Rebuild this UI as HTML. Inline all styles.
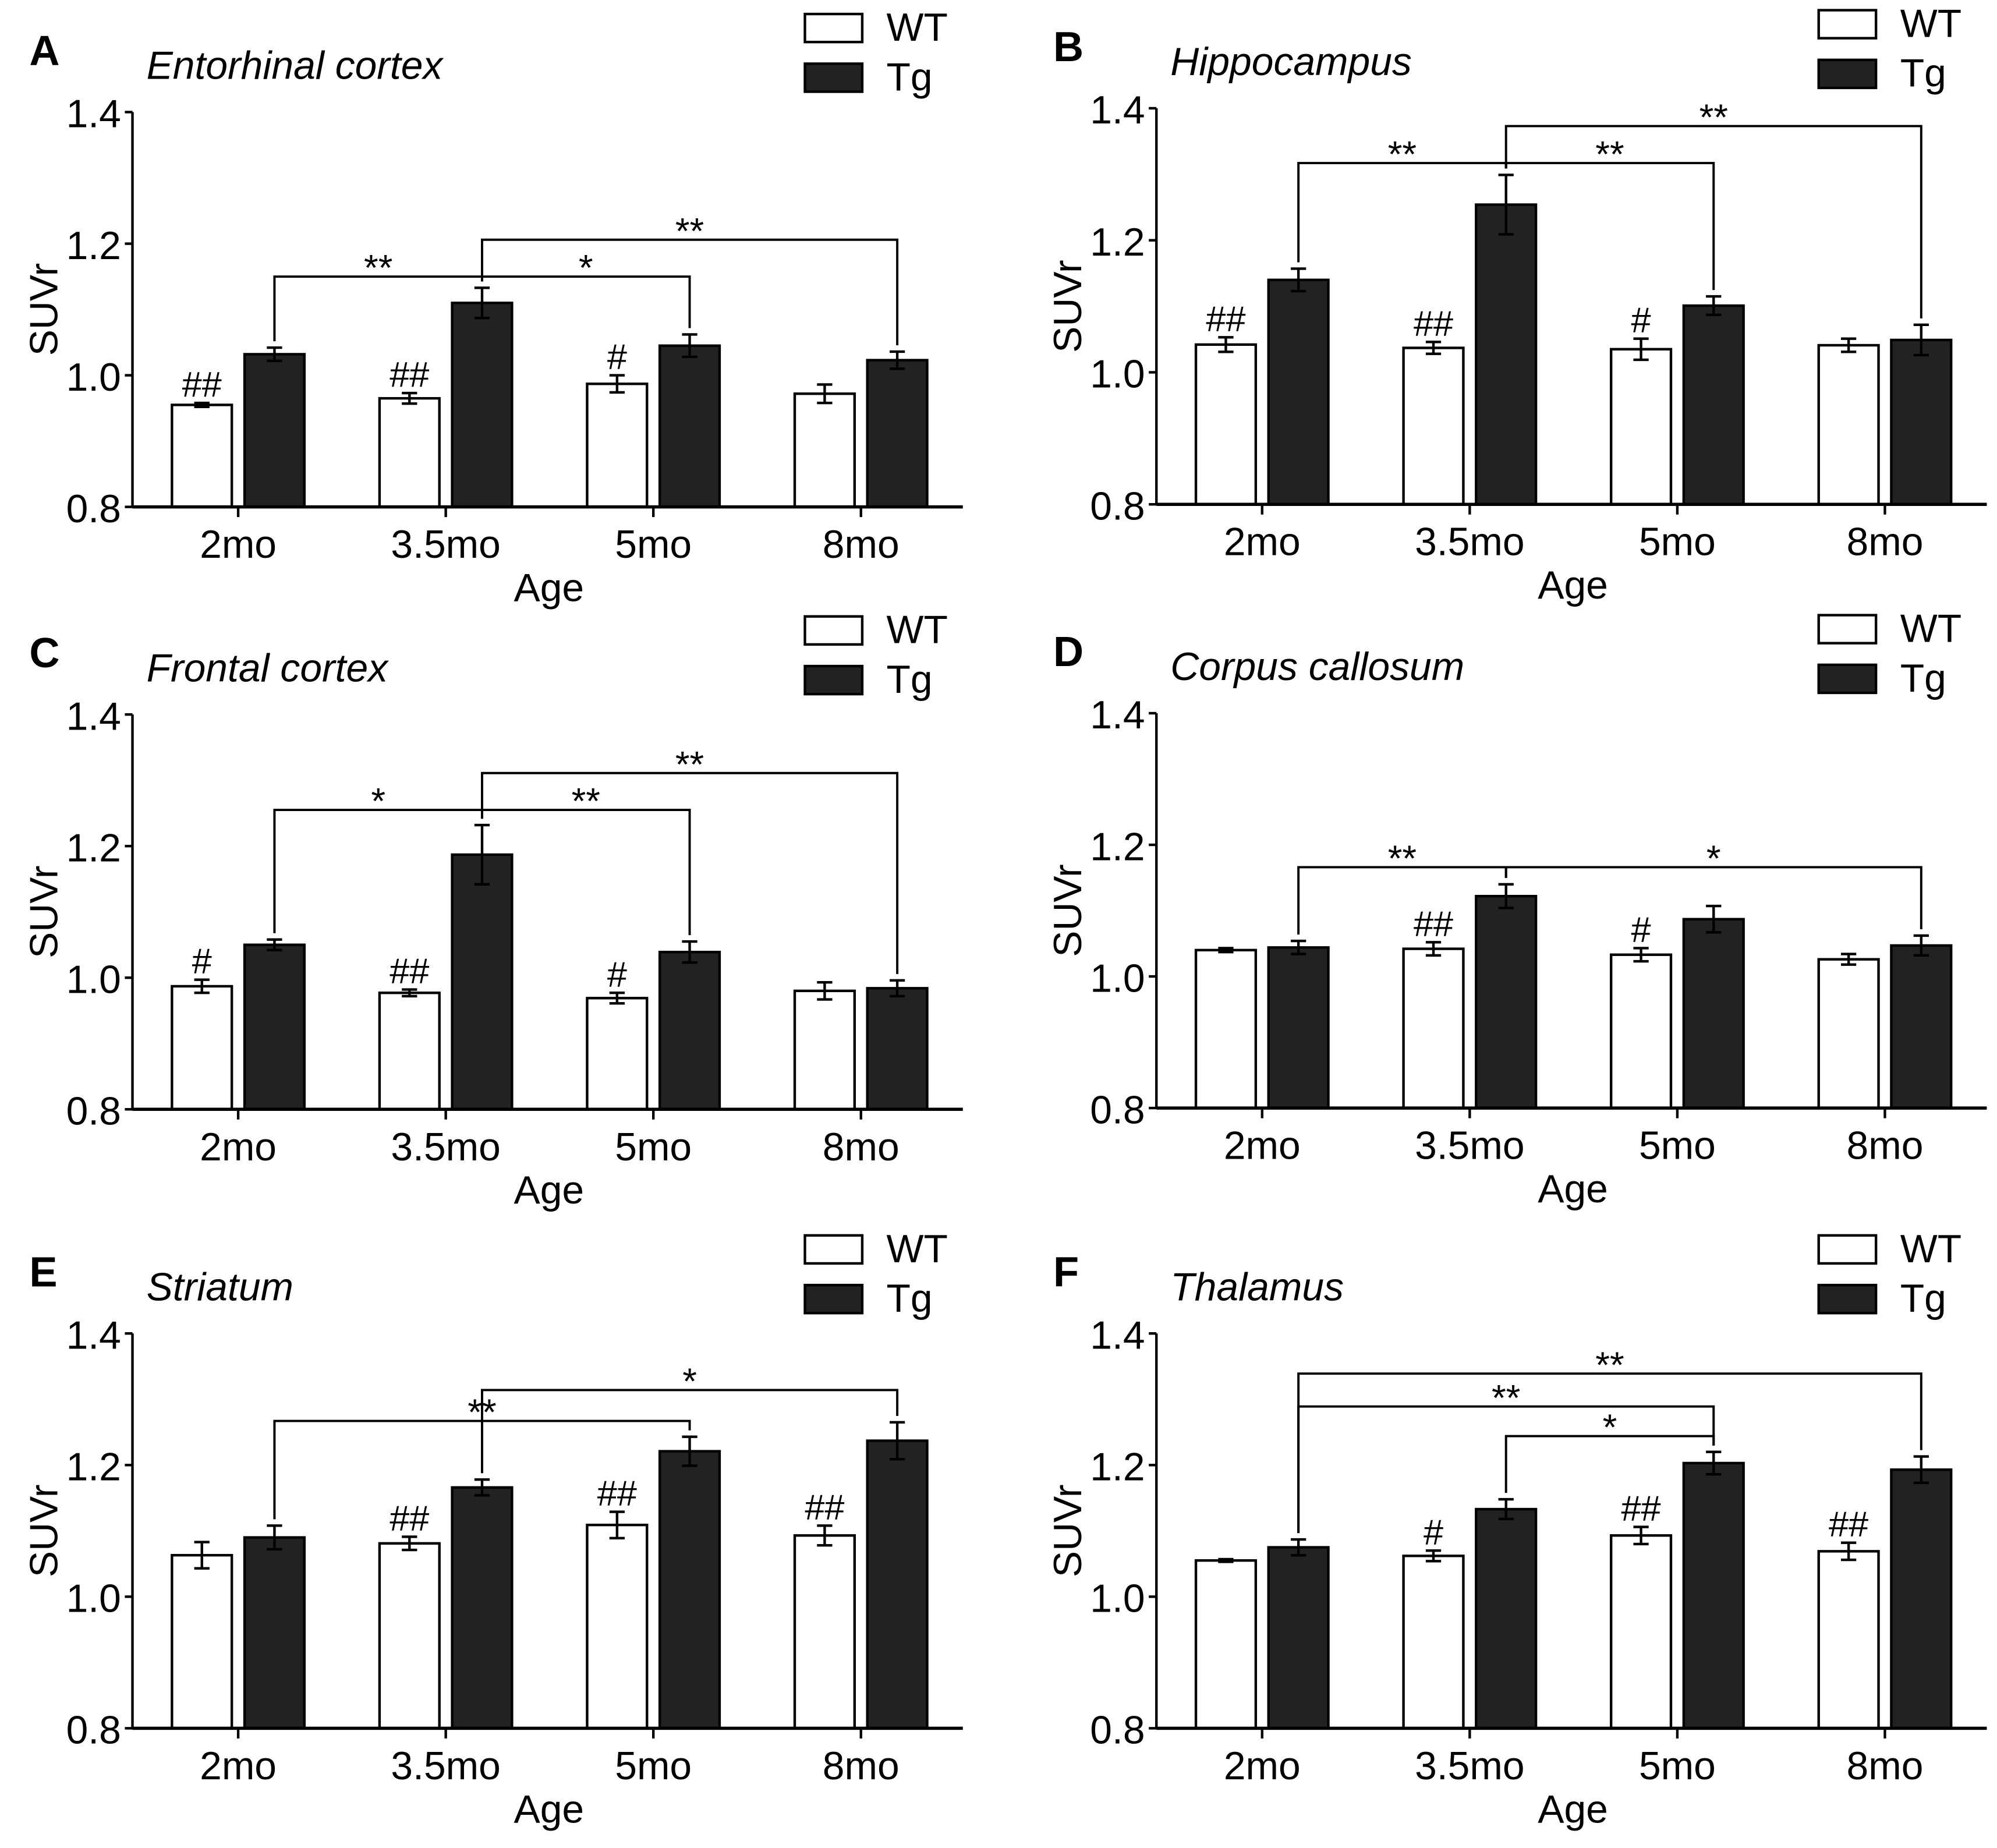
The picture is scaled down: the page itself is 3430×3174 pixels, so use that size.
<!DOCTYPE html>
<html><head><meta charset="utf-8"><style>
html,body{margin:0;padding:0;background:#fff}
svg{display:block}
text{font-family:"Liberation Sans",Arial,sans-serif;fill:#000}
</style></head><body>
<svg id="fig" width="3430" height="3174" viewBox="0 0 1568 1451" xmlns="http://www.w3.org/2000/svg"></svg>
<script>
const categories = ["2mo","3.5mo","5mo","8mo"];
const yTicks = [0.8,1.0,1.2,1.4];
const yTickLabels = ["0.8","1.0","1.2","1.4"];
const letters = ["A","B","C","D","E","F"];
const titles = ["Entorhinal cortex","Hippocampus","Frontal cortex","Corpus callosum","Striatum","Thalamus"];
const wtA=[0.955,0.965,0.987,0.972], wtAErr=[0.003,0.008,0.013,0.014];
const tgA=[1.032,1.110,1.045,1.023], tgAErr=[0.010,0.023,0.017,0.013];
const wtB=[1.042,1.037,1.035,1.041], wtBErr=[0.011,0.009,0.016,0.010];
const tgB=[1.140,1.254,1.101,1.049], tgBErr=[0.017,0.045,0.014,0.023];
const wtC=[0.987,0.977,0.969,0.980], wtCErr=[0.010,0.005,0.008,0.013];
const tgC=[1.050,1.187,1.039,0.984], tgCErr=[0.008,0.045,0.016,0.012];
const wtD=[1.040,1.042,1.033,1.026], wtDErr=[0.003,0.010,0.010,0.008];
const tgD=[1.044,1.122,1.087,1.047], tgDErr=[0.010,0.018,0.020,0.015];
const wtE=[1.063,1.081,1.109,1.093], wtEErr=[0.020,0.010,0.020,0.015];
const tgE=[1.090,1.166,1.221,1.237], tgEErr=[0.018,0.012,0.022,0.028];
const wtF=[1.055,1.062,1.093,1.069], wtFErr=[0.002,0.008,0.013,0.013];
const tgF=[1.075,1.133,1.203,1.193], tgFErr=[0.012,0.015,0.017,0.020];
const hashA=["##","##","#",""], hashB=["##","##","#",""], hashC=["#","##","#",""];
const hashD=["","##","#",""], hashE=["","##","##","##"], hashF=["","#","##","##"];
// brackets: [fromCat, toCat, level (SUVr), label]
const brA=[[0,1,1.150,"**"],[1,2,1.150,"*"],[1,3,1.206,"**"]];
const brB=[[0,1,1.317,"**"],[1,2,1.317,"**"],[1,3,1.373,"**"]];
const brC=[[0,1,1.255,"*"],[1,2,1.255,"**"],[1,3,1.311,"**"]];
const brD=[[0,1,1.166,"**"],[1,3,1.166,"*"]];
const brE=[[0,2,1.267,"**"],[1,3,1.314,"*"]];
const brF=[[0,3,1.339,"**"],[0,2,1.289,"**"],[1,2,1.244,"*"]];

const panels=[
 {x0:104,top:88,bot:398,lx:632,wt:wtA,we:wtAErr,tg:tgA,te:tgAErr,h:hashA,br:brA},
 {x0:908,top:85,bot:396,lx:1428,wt:wtB,we:wtBErr,tg:tgB,te:tgBErr,h:hashB,br:brB},
 {x0:104,top:561,bot:871,lx:632,wt:wtC,we:wtCErr,tg:tgC,te:tgCErr,h:hashC,br:brC},
 {x0:908,top:560,bot:870,lx:1428,wt:wtD,we:wtDErr,tg:tgD,te:tgDErr,h:hashD,br:brD},
 {x0:104,top:1047,bot:1357,lx:632,wt:wtE,we:wtEErr,tg:tgE,te:tgEErr,h:hashE,br:brE},
 {x0:908,top:1047,bot:1357,lx:1428,wt:wtF,we:wtFErr,tg:tgF,te:tgFErr,h:hashF,br:brF}
];
const NS="http://www.w3.org/2000/svg";
const svg=document.getElementById("fig");
function mk(tag,attrs,parent,txt){const e=document.createElementNS(NS,tag);for(const k in attrs)e.setAttribute(k,attrs[k]);if(txt!==undefined)e.textContent=txt;parent.appendChild(e);return e;}

panels.forEach((p,pi)=>{
  const g=mk("g",{},svg);
  
  
  const y=v=>p.bot-(v-0.8)/(0.6)*(p.bot-p.top);
  const wtX=i=>p.x0+31+163*i, tgX=i=>p.x0+88+163*i, bw=47;
  const tgC=i=>tgX(i)+bw/2, wtCx=i=>wtX(i)+bw/2;
  let t=mk("text",{x:p.x0-81,y:p.top-37,"font-size":33,"font-weight":"bold"},g,letters[pi]);
  
  
  t=mk("text",{x:p.x0+11,y:p.top-26,"font-size":31,"font-style":"italic"},g,titles[pi]);
  
  
  // legend
  let r=mk("rect",{x:p.lx,y:p.top-77,width:45,height:22,fill:"#fff",stroke:"#000","stroke-width":2},g);
  
  
  t=mk("text",{x:p.lx+64,y:p.top-56,"font-size":31},g,"WT");
  
  
  r=mk("rect",{x:p.lx,y:p.top-38,width:45,height:22,fill:"#222",stroke:"#000","stroke-width":2},g);
  
  
  t=mk("text",{x:p.lx+64,y:p.top-17,"font-size":31},g,"Tg");
  
  
  // y axis title
  const ym=(p.top+p.bot)/2;
  t=mk("text",{x:p.x0-59,y:ym,"font-size":31,"text-anchor":"middle",transform:`rotate(-90 ${p.x0-59} ${ym})`},g,"SUVr");
  
  
  // axes
  let l=mk("line",{x1:p.x0,y1:p.top,x2:p.x0,y2:p.bot,stroke:"#000","stroke-width":2},g);
  
  
  yTicks.forEach((v,i)=>{
    mk("line",{x1:p.x0-6,y1:y(v),x2:p.x0,y2:y(v),stroke:"#000","stroke-width":2},g);
    const tt=mk("text",{x:p.x0-9,y:y(v)+12,"font-size":31,"text-anchor":"end"},g,yTickLabels[i]);
    
    
  });
  // bars
  categories.forEach((c,i)=>{
    const wb=mk("rect",{x:wtX(i),y:y(p.wt[i]),width:bw,height:p.bot-y(p.wt[i]),fill:"#fff",stroke:"#000","stroke-width":2},g);
    
    
    const tb=mk("rect",{x:tgX(i),y:y(p.tg[i]),width:bw,height:p.bot-y(p.tg[i]),fill:"#222",stroke:"#000","stroke-width":2},g);
    
    
    [[wtCx(i),p.wt[i],p.we[i]],[tgC(i),p.tg[i],p.te[i]]].forEach(([cx,v,e])=>{
      const eg=mk("path",{d:`M${cx} ${y(v+e)}V${y(v-e)}M${cx-6} ${y(v+e)}H${cx+6}M${cx-6} ${y(v-e)}H${cx+6}`,stroke:"#000","stroke-width":2,fill:"none"},g);
      
      
    });
    if(p.h[i]){
      const ht=mk("text",{x:wtCx(i),y:y(p.wt[i]+p.we[i])-5,"font-size":28,"text-anchor":"middle"},g,p.h[i]);
      
      
    }
    mk("line",{x1:p.x0+83+163*i,y1:p.bot,x2:p.x0+83+163*i,y2:p.bot+8,stroke:"#000","stroke-width":2},g);
    const ct=mk("text",{x:p.x0+83+163*i,y:p.bot+40,"font-size":31,"text-anchor":"middle"},g,c);
    
    
  });
  l=mk("line",{x1:p.x0,y1:p.bot,x2:p.x0+652,y2:p.bot,stroke:"#000","stroke-width":2.5},g);
  
  
  t=mk("text",{x:p.x0+327,y:p.bot+74,"font-size":31,"text-anchor":"middle"},g,"Age");
  
  
  // brackets
  p.br.forEach(b=>{
    const [a,c2,lev,lab]=b;
    const ly=y(lev);
    const xa=tgC(a), xb=tgC(c2);
    const ya=y(p.tg[a]+p.te[a])-5, yb=y(p.tg[c2]+p.te[c2])-5;
    const bp=mk("path",{d:`M${xa} ${ya}V${ly}H${xb}V${yb}`,stroke:"#000","stroke-width":1.8,fill:"none"},g);
    
    
    const st=mk("text",{x:(xa+xb)/2,y:ly+3,"font-size":29,"text-anchor":"middle"},g,lab);
    
    
  });
});
</script>
</body></html>
